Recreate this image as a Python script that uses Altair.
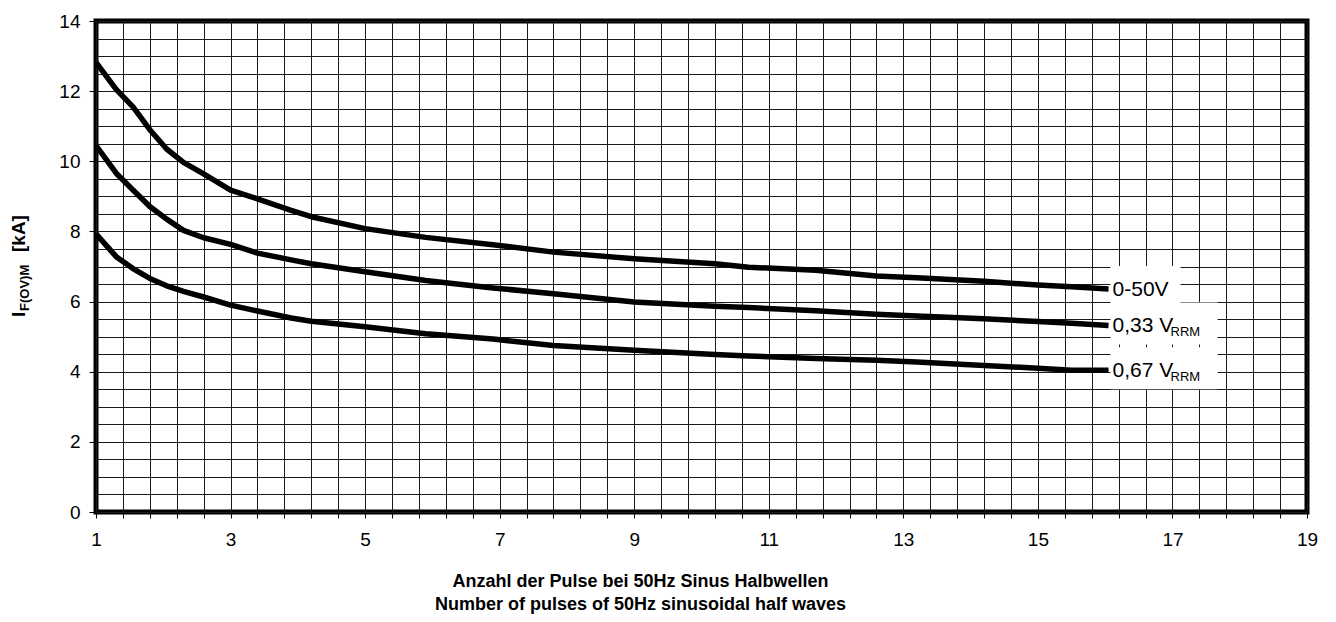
import altair as alt
import pandas as pd

# ---------------- data ----------------
x_pulses = [1.0, 1.3, 1.55, 1.8, 2.05, 2.3, 2.6, 3.0, 3.4, 3.9, 4.2, 5.0, 5.9,
            6.9, 7.8, 9.0, 10.2, 10.7, 11.7, 12.6, 13.2, 14.2, 15.0, 15.5, 16.05]
i_0_50V = [12.82, 12.05, 11.55, 10.9, 10.35, 9.97, 9.64, 9.18, 8.93, 8.6, 8.42, 8.08, 7.83,
           7.62, 7.41, 7.22, 7.08, 6.98, 6.89, 6.73, 6.68, 6.58, 6.47, 6.42, 6.36]
i_033_vrrm = [10.45, 9.66, 9.18, 8.71, 8.35, 8.03, 7.82, 7.63, 7.38, 7.19, 7.08, 6.85, 6.6,
              6.39, 6.22, 5.99, 5.87, 5.83, 5.74, 5.64, 5.59, 5.51, 5.43, 5.38, 5.32]
i_067_vrrm = [7.93, 7.28, 6.94, 6.66, 6.45, 6.29, 6.13, 5.9, 5.73, 5.53, 5.44, 5.28, 5.08,
              4.93, 4.75, 4.61, 4.49, 4.45, 4.38, 4.33, 4.28, 4.18, 4.1, 4.04, 4.04]

series_names = ["0-50V", "0,33 V", "0,67 V"]
series_subs = ["", "RRM", "RRM"]

x_title = ["Anzahl der Pulse bei 50Hz Sinus Halbwellen",
           "Number of pulses of 50Hz sinusoidal half waves"]
y_title_main = "I"
y_title_sub = "F(OV)M"
y_title_unit = "[kA]"

x_grid_values = [round(1 + 0.4 * k, 1) for k in range(46)]   # 1 .. 19 every 0.4
y_grid_values = [k * 0.5 for k in range(29)]                  # 0 .. 14 every 0.5

# ---------------- tables ----------------
rows = []
for name, vals in zip(series_names, [i_0_50V, i_033_vrrm, i_067_vrrm]):
    for xv, yv in zip(x_pulses, vals):
        rows.append({"series": name, "x": xv, "y": yv})
lines_df = pd.DataFrame(rows)

ends = [i_0_50V[-1], i_033_vrrm[-1], i_067_vrrm[-1]]
labels_df = pd.DataFrame({
    "series": series_names,
    "x": [x_pulses[-1]] * 3,
    "y": ends,
    "sub": series_subs,
})

FONT = "Liberation Sans, Arial, Helvetica, sans-serif"

x_scale = alt.Scale(domain=[1, 19], nice=False, zero=False)
y_scale = alt.Scale(domain=[0, 14], nice=False)

x_axis = alt.Axis(
    values=x_grid_values, tickCount=200,
    grid=True, gridColor="#1a1a1a", gridWidth=1,
    domain=False,
    ticks=True, tickColor="black", tickSize=6, tickWidth=1,
    labelExpr="abs(datum.value - round(datum.value)) < 0.001 ? format(round(datum.value), 'd') : ''",
    labelFont=FONT, labelFontSize=19, labelColor="black", labelPadding=12,
    labelFlush=False, labelOverlap=False, labelBound=False,
    title=x_title, titleFont=FONT, titleFontSize=18, titleFontWeight="bold",
    titleColor="black", titleX=544, titleY=60, titleBaseline="top",
    titleAlign="center", titleLineHeight=23,
)
y_axis = alt.Axis(
    values=y_grid_values, tickCount=200,
    grid=True, gridColor="#1a1a1a", gridWidth=1,
    domain=False,
    ticks=True, tickSize=7, tickWidth=1,
    tickColor={"condition": {"test": "datum.value % 2 === 0", "value": "black"},
               "value": "transparent"},
    labelExpr="datum.value % 2 === 0 ? format(datum.value, 'd') : ''",
    labelFont=FONT, labelFontSize=19, labelColor="black", labelPadding=9,
    labelFlush=False, labelOverlap=False, labelBound=False,
    title=None,
)

lines = alt.Chart(lines_df).mark_line(color="black", strokeWidth=5.5, strokeJoin="round").encode(
    x=alt.X("x:Q", scale=x_scale, axis=x_axis),
    y=alt.Y("y:Q", scale=y_scale, axis=y_axis),
    detail="series:N",
)

box_first = alt.Chart(labels_df).transform_filter(
    alt.datum.series == series_names[0]
).mark_rect(color="white", xOffset=2, x2Offset=72, yOffset=-23, y2Offset=14).encode(
    x=alt.X("x:Q", scale=x_scale), x2="x:Q",
    y=alt.Y("y:Q", scale=y_scale), y2="y:Q",
)
box_rest = alt.Chart(labels_df).transform_filter(
    alt.datum.series != series_names[0]
).mark_rect(color="white", xOffset=2, x2Offset=109, yOffset=-23, y2Offset=19).encode(
    x=alt.X("x:Q", scale=x_scale), x2="x:Q",
    y=alt.Y("y:Q", scale=y_scale), y2="y:Q",
)

label_main = alt.Chart(labels_df).mark_text(
    align="left", baseline="middle", dx=4, dy=1, font=FONT, fontSize=21, color="black"
).encode(
    x=alt.X("x:Q", scale=x_scale), y=alt.Y("y:Q", scale=y_scale), text="series:N"
)
label_sub = alt.Chart(labels_df).mark_text(
    align="left", baseline="middle", dx=62, dy=7, font=FONT, fontSize=13, color="black"
).encode(
    x=alt.X("x:Q", scale=x_scale), y=alt.Y("y:Q", scale=y_scale), text="sub:N"
)

ytitle_df = pd.DataFrame({"main": [y_title_main], "sub": [y_title_sub], "unit": [y_title_unit]})
yt_main = alt.Chart(ytitle_df).mark_text(
    angle=270, align="left", baseline="alphabetic", font=FONT, fontSize=19,
    fontWeight="bold", color="black"
).encode(x=alt.value(-71), y=alt.value(296), text="main:N")
yt_sub = alt.Chart(ytitle_df).mark_text(
    angle=270, align="left", baseline="alphabetic", font=FONT, fontSize=13,
    fontWeight="bold", color="black"
).encode(x=alt.value(-67), y=alt.value(290), text="sub:N")
yt_unit = alt.Chart(ytitle_df).mark_text(
    angle=270, align="left", baseline="alphabetic", font=FONT, fontSize=19,
    fontWeight="bold", color="black"
).encode(x=alt.value(-71), y=alt.value(231), text="unit:N")

chart = alt.layer(
    lines, box_first, box_rest, label_main, label_sub, yt_main, yt_sub, yt_unit
).properties(
    width=1211, height=491,
    autosize=alt.AutoSizeParams(type="none"),
    padding={"left": 88, "top": 13, "right": 21, "bottom": 102},
    background="white",
).configure_view(
    stroke="black", strokeWidth=5
)

chart.save("out.html", embed_options={"renderer": "svg", "actions": False})
